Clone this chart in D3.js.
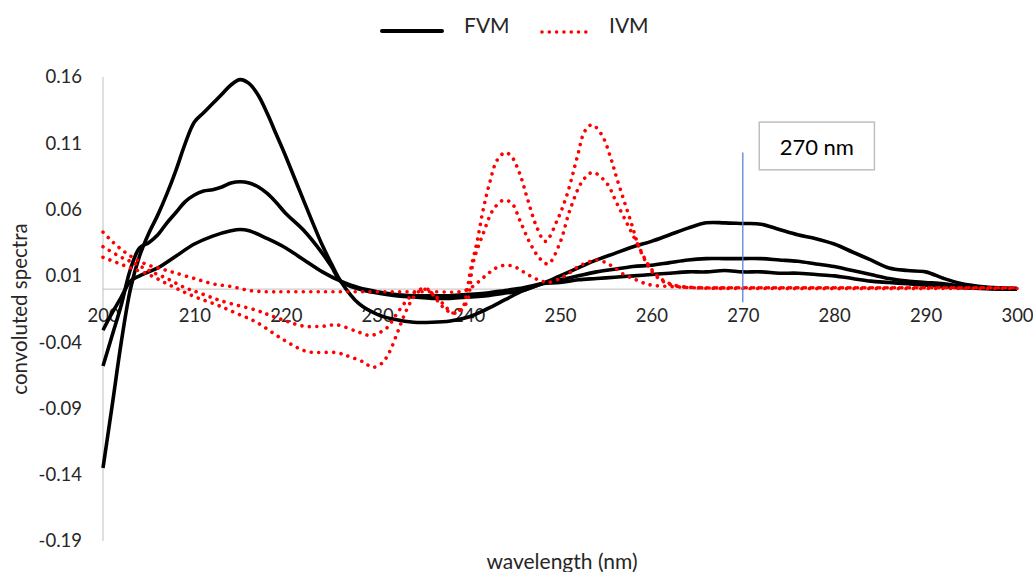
<!DOCTYPE html>
<html>
<head>
<meta charset="utf-8">
<script src="https://cdn.jsdelivr.net/npm/d3@7"></script>
<style>
  html, body { margin: 0; padding: 0; background: #fff; }
  svg { display: block; font-family: Lato, "Open Sans", sans-serif; }
</style>
</head>
<body>
<svg id="chart" width="1033" height="572"></svg>
<script>
// Wavelength ticks and value ticks (labels as printed on the axes)
const xTicks = [200, 210, 220, 230, 240, 250, 260, 270, 280, 290, 300];
const yTicks = [-0.19, -0.14, -0.09, -0.04, 0.01, 0.06, 0.11, 0.16];
const yTickLabels = ["-0.19", "-0.14", "-0.09", "-0.04", "0.01", "0.06", "0.11", "0.16"];

// FVM convoluted spectra (three traces)
const fvmAWl = [200,201,202,203,204,205,206,207,208,209,210,211,212,213,214,215,216,217,218,219,220,222,224,225,226,228,230,232,234,236,238,240,242,244,246,248,250,252,254,256,258,260,262,264,266,268,270,272,274,276,278,280,282,284,286,288,290,292,294,296,298,300];
const fvmA   = [-0.135,-0.088,-0.040,0.000,0.025,0.042,0.056,0.072,0.090,0.110,0.126,0.133,0.140,0.147,0.154,0.158,0.155,0.146,0.132,0.116,0.100,0.066,0.033,0.019,0.006,-0.011,-0.019,-0.023,-0.025,-0.025,-0.024,-0.021,-0.015,-0.008,-0.001,0.004,0.010,0.016,0.022,0.027,0.032,0.036,0.041,0.046,0.050,0.050,0.0495,0.049,0.045,0.041,0.038,0.034,0.028,0.022,0.016,0.014,0.013,0.008,0.004,0.002,0.001,0.0005];

const fvmBWl = [200,201,202,203,204,205,206,207,208,209,210,211,212,213,214,215,216,217,218,219,220,222,224,225,226,228,230,232,234,236,238,240,242,244,246,248,250,252,254,256,258,260,262,264,266,268,270,272,274,276,278,280,282,284,286,288,290,292,294,296,298,300];
const fvmB   = [-0.058,-0.035,-0.012,0.015,0.031,0.035,0.041,0.050,0.058,0.066,0.071,0.074,0.075,0.077,0.080,0.081,0.080,0.077,0.072,0.065,0.057,0.044,0.027,0.017,0.006,0.000,-0.003,-0.005,-0.006,-0.007,-0.007,-0.006,-0.005,-0.003,-0.001,0.004,0.007,0.010,0.013,0.015,0.017,0.018,0.020,0.022,0.023,0.023,0.023,0.023,0.022,0.021,0.019,0.017,0.014,0.011,0.008,0.006,0.005,0.004,0.002,0.001,0.0005,0.0005];

const fvmCWl = [200,201,202,203,204,205,206,208,210,212,214,215,216,218,220,222,224,226,228,230,232,234,236,238,240,242,244,246,248,250,252,254,256,258,260,262,264,266,268,270,272,274,276,278,280,282,284,286,288,290,292,294,296,298,300];
const fvmC   = [-0.031,-0.018,-0.006,0.006,0.010,0.013,0.016,0.025,0.034,0.040,0.044,0.045,0.044,0.038,0.031,0.022,0.013,0.006,0.001,-0.002,-0.004,-0.005,-0.005,-0.005,-0.004,-0.003,-0.001,0.001,0.004,0.005,0.007,0.008,0.009,0.010,0.011,0.012,0.013,0.013,0.014,0.013,0.013,0.012,0.012,0.011,0.010,0.008,0.006,0.005,0.004,0.003,0.002,0.001,0.0005,0.0,0.0];

// IVM convoluted spectra (three traces)
const ivmAWl = [200,201.5,203,205,207,208.8,210.5,212.5,214.5,216.8,219.7,222.3,225.6,227,228.5,229.5,230.5,231.3,232.2,233,234,235,236,237.2,238.3,239.4,239.8,240.2,240.9,241.6,242.3,243.1,244,244.7,245.6,246.4,247.5,248.4,249.7,250.8,251.9,252.7,253.5,254.6,255.5,256.2,257.7,258.8,260.2,261.5,263,266,270,280,290,300];
const ivmA   = [0.024,0.020,0.016,0.011,0.004,-0.002,-0.007,-0.012,-0.018,-0.025,-0.038,-0.047,-0.048,-0.051,-0.055,-0.059,-0.056,-0.048,-0.033,-0.019,-0.006,0.000,-0.003,-0.011,-0.018,-0.013,-0.002,0.014,0.035,0.060,0.080,0.097,0.103,0.100,0.087,0.069,0.046,0.036,0.052,0.072,0.100,0.119,0.124,0.116,0.100,0.084,0.052,0.029,0.012,0.005,0.002,0.001,0.001,0.001,0.001,0.001];

const ivmBWl = [200,202,203.3,205,207,209,210.6,213,216.8,218,220,222,224,225.6,227.8,229.2,230.2,231.1,232.2,233.3,234.4,235.5,236.5,237.6,238.7,239.8,240.5,241.6,242.7,243.8,244.7,245.6,246.7,247.8,248.7,250,251.1,252.5,253.6,255.1,256.2,257.3,258.4,259.8,261,262.5,265,270,300];
const ivmB   = [0.032,0.024,0.020,0.014,0.008,0.001,-0.003,-0.009,-0.016,-0.019,-0.024,-0.028,-0.028,-0.027,-0.032,-0.035,-0.033,-0.029,-0.018,-0.008,-0.001,0.000,-0.008,-0.016,-0.018,-0.010,0.020,0.042,0.060,0.067,0.065,0.052,0.035,0.023,0.019,0.035,0.060,0.082,0.088,0.080,0.065,0.050,0.035,0.017,0.008,0.003,0.001,0.0005,0.0005];

const ivmCWl = [200,201,202,203,204,205,206,207,208,210,212,214,216,218,220,224,228,232,236,239,240,241,242,243,244,245,246,247,248,248.7,250,251,252,253,254,255,256,257,258,259,260,262,265,270,300];
const ivmC   = [0.043,0.036,0.030,0.025,0.021,0.018,0.016,0.014,0.012,0.008,0.004,0.002,-0.001,-0.002,-0.002,-0.002,-0.002,-0.002,-0.002,-0.002,0.000,0.005,0.011,0.016,0.018,0.017,0.013,0.009,0.006,0.005,0.008,0.012,0.017,0.020,0.022,0.020,0.016,0.011,0.008,0.005,0.003,0.002,0.001,0.001,0.001];

// 270 nm marker
const markerWl = 270;
const markerRange = [-0.01, 0.103];
const markerLabel = "270 nm";
const markerBox = { wl: [271.8, 284.4], v: [0.126, 0.090] };

const svg = d3.select("#chart");
const x = d3.scaleLinear().domain([200, 300]).range([103, 1017]);
const y = d3.scaleLinear().domain([-0.19, 0.16]).range([541, 77]);

const textColor = "#262626";
const gridGray = "#bfbfbf";

// Axis lines: vertical at 200 nm, horizontal at zero
svg.append("line")
  .attr("x1", x(200)).attr("x2", x(200))
  .attr("y1", y(0.16)).attr("y2", y(-0.19))
  .attr("stroke", gridGray).attr("stroke-width", 1);
svg.append("line")
  .attr("x1", x(200)).attr("x2", x(300))
  .attr("y1", y(0)).attr("y2", y(0))
  .attr("stroke", gridGray).attr("stroke-width", 1);

// Y axis tick labels
const yAxis = d3.axisLeft(y)
  .tickValues(yTicks)
  .tickFormat((d, i) => yTickLabels[i])
  .tickSize(0)
  .tickPadding(21);
const gy = svg.append("g").attr("transform", `translate(${x(200)},0)`).call(yAxis);
gy.select(".domain").remove();
gy.selectAll("text").attr("fill", textColor).style("font-size", "18.5px").style("font-family", "Lato, sans-serif");

// X axis tick labels
const xAxis = d3.axisBottom(x)
  .tickValues(xTicks)
  .tickFormat(d3.format("d"))
  .tickSize(0)
  .tickPadding(20);
const gx = svg.append("g").attr("transform", `translate(0,${y(0)})`).call(xAxis);
gx.select(".domain").remove();
gx.selectAll("text").attr("fill", textColor).style("font-size", "18.5px").style("font-family", "Lato, sans-serif");

// Axis titles
svg.append("text")
  .attr("transform", `translate(27,309) rotate(-90)`)
  .attr("text-anchor", "middle")
  .attr("fill", textColor)
  .style("font-size", "20.5px")
  .text("convoluted spectra");
svg.append("text")
  .attr("x", 562).attr("y", 569)
  .attr("text-anchor", "middle")
  .attr("fill", textColor)
  .style("font-size", "21px")
  .text("wavelength (nm)");

// Spectra
const line = d3.line()
  .x(d => x(d[0]))
  .y(d => y(d[1]))
  .curve(d3.curveCatmullRom.alpha(0.5));

const pairs = (wl, v) => wl.map((w, i) => [w, v[i]]);

const fvmSeries = [pairs(fvmAWl, fvmA), pairs(fvmBWl, fvmB), pairs(fvmCWl, fvmC)];
const ivmSeries = [pairs(ivmAWl, ivmA), pairs(ivmBWl, ivmB), pairs(ivmCWl, ivmC)];

svg.append("g").selectAll("path").data(fvmSeries).join("path")
  .attr("d", line)
  .attr("fill", "none")
  .attr("stroke", "#000")
  .attr("stroke-width", 3.6)
  .attr("stroke-linejoin", "round");

svg.append("g").selectAll("path").data(ivmSeries).join("path")
  .attr("d", line)
  .attr("fill", "none")
  .attr("stroke", "#ff0000")
  .attr("stroke-width", 3.6)
  .attr("stroke-linecap", "round")
  .attr("stroke-dasharray", "0.01 7.4");

// 270 nm marker line and label box
svg.append("line")
  .attr("x1", x(markerWl)).attr("x2", x(markerWl))
  .attr("y1", y(markerRange[1])).attr("y2", y(markerRange[0]))
  .attr("stroke", "#5b83d3").attr("stroke-width", 1.3);

svg.append("rect")
  .attr("x", x(markerBox.wl[0])).attr("y", y(markerBox.v[0]))
  .attr("width", x(markerBox.wl[1]) - x(markerBox.wl[0]))
  .attr("height", y(markerBox.v[1]) - y(markerBox.v[0]))
  .attr("fill", "#fff")
  .attr("stroke", gridGray).attr("stroke-width", 1.5);
svg.append("text")
  .attr("x", (x(markerBox.wl[0]) + x(markerBox.wl[1])) / 2)
  .attr("y", y(markerBox.v[1]) - 15)
  .attr("text-anchor", "middle")
  .attr("fill", "#000")
  .style("font-size", "22px")
  .text(markerLabel);

// Legend
const legend = svg.append("g");
legend.append("line")
  .attr("x1", 382).attr("x2", 442).attr("y1", 31).attr("y2", 31)
  .attr("stroke", "#000").attr("stroke-width", 4).attr("stroke-linecap", "round");
legend.append("text")
  .attr("x", 464).attr("y", 33)
  .attr("fill", textColor)
  .style("font-size", "21px")
  .text("FVM");
legend.append("line")
  .attr("x1", 542).attr("x2", 593).attr("y1", 32).attr("y2", 32)
  .attr("stroke", "#ff0000").attr("stroke-width", 3.6)
  .attr("stroke-linecap", "round").attr("stroke-dasharray", "0.01 7.3");
legend.append("text")
  .attr("x", 609).attr("y", 33)
  .attr("fill", textColor)
  .style("font-size", "21px")
  .text("IVM");
</script>
</body>
</html>
